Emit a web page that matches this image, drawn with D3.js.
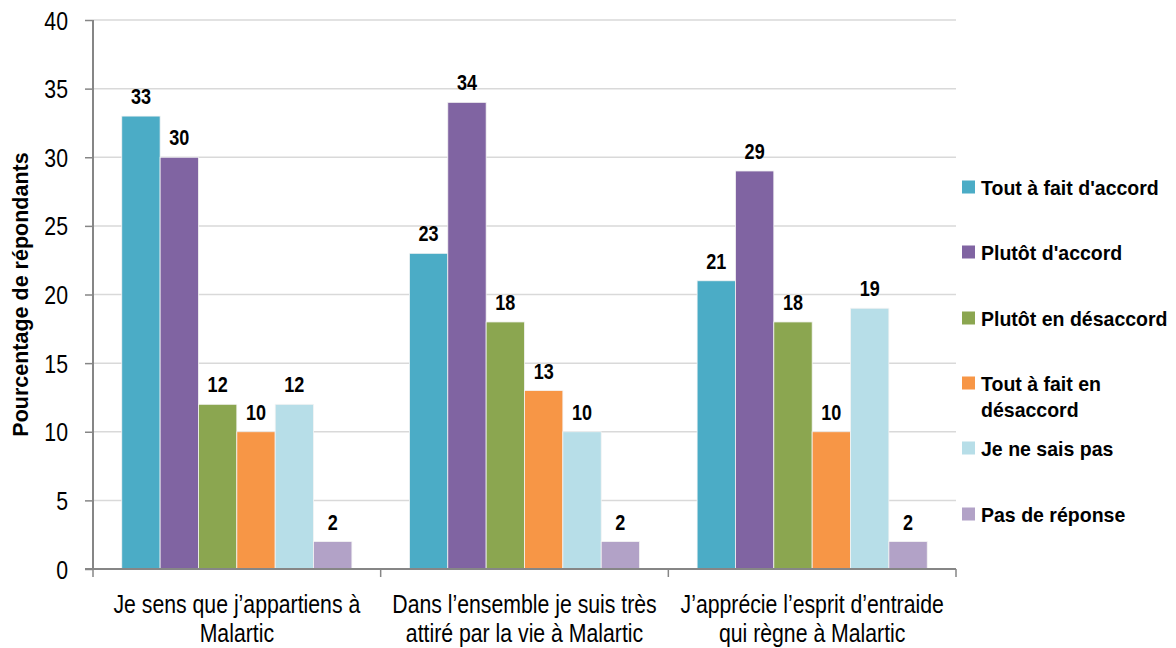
<!DOCTYPE html>
<html>
<head>
<meta charset="utf-8">
<script src="https://cdn.jsdelivr.net/npm/d3@7"></script>
<style>
  body { margin: 0; background: #fff; }
  text { font-family: "Liberation Sans", Arial, sans-serif; fill: #000; }
</style>
</head>
<body>
<div id="chart"></div>
<script>
// data
var categories = [
    ["Je sens que j\u2019appartiens \u00e0", "Malartic"],
    ["Dans l\u2019ensemble je suis tr\u00e8s", "attir\u00e9 par la vie \u00e0 Malartic"],
    ["J\u2019appr\u00e9cie l\u2019esprit d\u2019entraide", "qui r\u00e8gne \u00e0 Malartic"]
];
var seriesNames = [
    ["Tout \u00e0 fait d'accord"],
    ["Plut\u00f4t d'accord"],
    ["Plut\u00f4t en d\u00e9saccord"],
    ["Tout \u00e0 fait en", "d\u00e9saccord"],
    ["Je ne sais pas"],
    ["Pas de r\u00e9ponse"]
];
var toutAFaitAccord = [33, 23, 21];
var plutotAccord = [30, 34, 29];
var plutotDesaccord = [12, 18, 18];
var toutAFaitDesaccord = [10, 13, 10];
var neSaisPas = [12, 10, 19];
var pasDeReponse = [2, 2, 2];
var yTicks = [0, 5, 10, 15, 20, 25, 30, 35, 40];
var colors = ["#4BACC6", "#8064A2", "#8BA650", "#F79646", "#B7DEE8", "#B2A2C7"];

var series = [toutAFaitAccord, plutotAccord, plutotDesaccord, toutAFaitDesaccord, neSaisPas, pasDeReponse];

var width = 1176, height = 648;
var margin = {left: 93, right: 220, top: 20, bottom: 79};
var narrow = 0.85; // fake "Arial Narrow"

var svg = d3.select("#chart").append("svg")
    .attr("width", width)
    .attr("height", height);

var x0 = d3.scaleBand()
    .domain(d3.range(categories.length))
    .range([margin.left, width - margin.right]);

var x1 = d3.scaleBand()
    .domain(d3.range(series.length))
    .range([0, x0.bandwidth()])
    .paddingOuter(0.75);

var y = d3.scaleLinear()
    .domain([0, 40])
    .range([height - margin.bottom, margin.top]);

// gridlines
svg.append("g")
    .selectAll("line")
    .data(yTicks.slice(1))
    .enter().append("line")
    .attr("x1", margin.left)
    .attr("x2", width - margin.right)
    .attr("y1", function(d) { return y(d); })
    .attr("y2", function(d) { return y(d); })
    .attr("stroke", "#d9d9d9")
    .attr("stroke-width", 1.5);

// bars
var groups = svg.append("g")
    .selectAll("g")
    .data(categories)
    .enter().append("g")
    .attr("transform", function(d, i) { return "translate(" + x0(i) + ",0)"; });

var cells = function(d, i) {
    return series.map(function(s, j) { return {s: j, v: s[i]}; });
};

groups.selectAll("rect")
    .data(cells)
    .enter().append("rect")
    .attr("x", function(d) { return x1(d.s); })
    .attr("width", x1.bandwidth())
    .attr("y", function(d) { return y(d.v); })
    .attr("height", function(d) { return y(0) - y(d.v); })
    .attr("fill", function(d) { return colors[d.s]; })
    .attr("stroke", "#f4f4f4")
    .attr("stroke-width", 0.8);

groups.selectAll("text.lbl")
    .data(cells)
    .enter().append("text")
    .attr("class", "lbl")
    .attr("transform", function(d) {
        return "translate(" + (x1(d.s) + x1.bandwidth() / 2) + "," + (y(d.v) - 12) + ") scale(0.82,1)";
    })
    .attr("text-anchor", "middle")
    .style("font-size", "22px")
    .style("font-weight", "bold")
    .text(function(d) { return d.v; });

// y axis
var yAxis = d3.axisLeft(y)
    .tickValues(yTicks)
    .tickSize(8)
    .tickPadding(17);

var gy = svg.append("g")
    .attr("transform", "translate(" + margin.left + ",0)")
    .call(yAxis);
gy.select(".domain").attr("stroke", "#868686").attr("stroke-width", 2).attr("d", "M0," + y(40) + "V" + y(0));
gy.selectAll(".tick line").attr("stroke", "#868686").attr("stroke-width", 1.5);
gy.selectAll(".tick text")
    .attr("fill", "#000")
    .style("font-size", "25px")
    .style("font-family", "'Liberation Sans', Arial, sans-serif")
    .attr("x", null)
    .attr("dy", "0.36em")
    .attr("transform", "translate(-25,0) scale(" + narrow + ",1)");

// x axis
var gx = svg.append("g")
    .attr("transform", "translate(0," + y(0) + ")");
gx.append("line")
    .attr("x1", margin.left - 8)
    .attr("x2", width - margin.right)
    .attr("stroke", "#868686")
    .attr("stroke-width", 2);
gx.selectAll("line.tk")
    .data(d3.range(categories.length + 1))
    .enter().append("line")
    .attr("class", "tk")
    .attr("x1", function(d) { return margin.left + d * x0.bandwidth(); })
    .attr("x2", function(d) { return margin.left + d * x0.bandwidth(); })
    .attr("y1", 0)
    .attr("y2", 8)
    .attr("stroke", "#868686")
    .attr("stroke-width", 1.5);

gx.selectAll("text")
    .data(categories)
    .enter().append("text")
    .attr("transform", function(d, i) {
        return "translate(" + (x0(i) + x0.bandwidth() / 2) + ",44) scale(" + narrow + ",1)";
    })
    .attr("text-anchor", "middle")
    .style("font-size", "25px")
    .selectAll("tspan")
    .data(function(d) { return d; })
    .enter().append("tspan")
    .attr("x", 0)
    .attr("dy", function(d, i) { return i === 0 ? 0 : 29; })
    .text(function(d) { return d; });

// y title
svg.append("text")
    .attr("transform", "translate(28," + ((y(0) + y(40)) / 2) + ") rotate(-90)")
    .attr("text-anchor", "middle")
    .style("font-size", "21.5px")
    .style("font-weight", "bold")
    .text("Pourcentage de r\u00e9pondants");

// legend
var legendY = [187, 252, 318, 383, 448, 514];
var legend = svg.append("g")
    .selectAll("g")
    .data(seriesNames)
    .enter().append("g")
    .attr("transform", function(d, i) { return "translate(962," + legendY[i] + ")"; });

legend.append("rect")
    .attr("x", 0)
    .attr("y", -6.5)
    .attr("width", 13)
    .attr("height", 13)
    .attr("fill", function(d, i) { return colors[i]; });

legend.append("text")
    .attr("transform", "translate(19,7.5) scale(0.93,1)")
    .style("font-size", "21px")
    .style("font-weight", "bold")
    .selectAll("tspan")
    .data(function(d) { return d; })
    .enter().append("tspan")
    .attr("x", 0)
    .attr("dy", function(d, i) { return i === 0 ? 0 : 27; })
    .text(function(d) { return d; });
</script>
</body>
</html>
